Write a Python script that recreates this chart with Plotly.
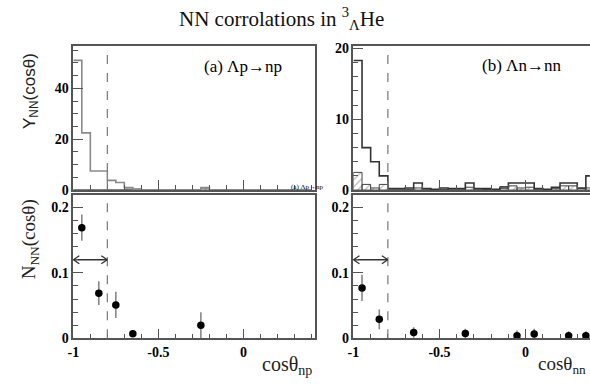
import numpy as np
import plotly.graph_objects as go

# ---------------- data ----------------
bin_edges = [round(-1 + 0.05 * i, 2) for i in range(29)]  # -1 ... 0.4, 0.05 wide

# (a) Λp→np  upper histogram (Y_NN)
hist_a_main = [51, 22.5, 7.5, 7.5, 3.8, 3.0, 1.0, 0.3,
               0, 0, 0, 0, 0, 0, 0,
               1.0,
               0, 0, 0, 0, 0, 0, 0, 0, 0, 0, 0, 0]
hist_a_hatch = [0, 0, 0, 0, 0, 0, 0.4, 0.4,
                0, 0, 0, 0, 0, 0, 0,
                0.8,
                0, 0, 0, 0, 0, 0, 0, 0, 0, 0, 0, 0]

# (b) Λn→nn upper histogram (Y_NN)
hist_b_main = [18.3, 6.0, 4.0, 2.0, 0.2, 0.2, 0.3, 1.0, 0.2, 0.1, 0.3, 0.2, 0.2, 1.0,
               0.2, 0.2, 0.1, 0.3, 1.0, 1.0, 1.0, 0.2, 0.1, 0.4, 1.0, 1.0, 0.3, 2.0]
hist_b_hatch = [2.5, 0.8, 0.3, 0.8, 0, 0, 0.1, 0.3, 0, 0, 0.1, 0, 0, 0.4,
                0, 0.1, 0, 0.5, 0.6, 0.3, 0.4, 0, 0, 0.2, 0.6, 0.6, 0.2, 0.3]

# lower panels N_NN(cosθ)
cos_a = [-0.95, -0.85, -0.75, -0.65, -0.25]
nnn_a = [0.169, 0.069, 0.051, 0.007, 0.020]
err_a = [0.020, 0.018, 0.020, 0.005, 0.020]

cos_b = [-0.95, -0.85, -0.65, -0.35, -0.05, 0.05, 0.25, 0.35]
nnn_b = [0.077, 0.029, 0.009, 0.0075, 0.004, 0.0065, 0.004, 0.004]
err_b = [0.020, 0.015, 0.008, 0.007, 0.008, 0.008, 0.007, 0.007]

cut_cos = -0.8
arrow_level = 0.12

# ---------------- figure ----------------
W, H = 590, 389
fig = go.Figure()

def step_xy(edges, vals):
    xs = list(edges) + [edges[-1]]
    ys = list(vals) + [vals[-1], 0]
    return xs, ys

centers = [(bin_edges[i] + bin_edges[i + 1]) / 2 for i in range(len(bin_edges) - 1)]

def add_hist(main, hatch, xa, ya, main_color):
    fig.add_trace(go.Bar(x=centers, y=hatch, width=0.05, xaxis=xa, yaxis=ya,
                         marker=dict(color='rgba(0,0,0,0)',
                                     line=dict(color='#444', width=1),
                                     pattern=dict(shape='/', fgcolor='#777', size=5, solidity=0.25)),
                         showlegend=False))
    xs, ys = step_xy(bin_edges, main)
    fig.add_trace(go.Scatter(x=xs, y=ys, mode='lines', line_shape='hv', xaxis=xa, yaxis=ya,
                             line=dict(color=main_color, width=1.6), showlegend=False))

add_hist(hist_a_main, hist_a_hatch, 'x', 'y', '#8a8a8a')
add_hist(hist_b_main, hist_b_hatch, 'x2', 'y2', '#333333')

def add_points(xv, yv, ev, xa, ya):
    fig.add_trace(go.Scatter(x=xv, y=yv, mode='markers', xaxis=xa, yaxis=ya,
                             marker=dict(color='black', size=7.5),
                             error_y=dict(type='data', array=ev, width=0, color='#888', thickness=1.6),
                             showlegend=False))

add_points(cos_a, nnn_a, err_a, 'x3', 'y3')
add_points(cos_b, nnn_b, err_b, 'x4', 'y4')

# double-headed arrows
for xa, ya in [('x3', 'y3'), ('x4', 'y4')]:
    fig.add_trace(go.Scatter(x=[-1, cut_cos], y=[arrow_level, arrow_level], mode='lines', xaxis=xa, yaxis=ya,
                             line=dict(color='#333', width=1.3), showlegend=False, hoverinfo='skip'))

tickfont = dict(family='Liberation Serif', size=14, color='black', weight='bold')
axcol = '#555'

def xaxis(domain, rng, anchor, labels):
    return dict(domain=domain, range=rng, anchor=anchor, showgrid=False, zeroline=False,
                showline=True, linecolor=axcol, linewidth=1.5, mirror=True,
                ticks='inside', ticklen=10, tickcolor=axcol, tickwidth=1.2,
                tickmode='array', tickvals=[-1, -0.5, 0], ticktext=['-1', '-0.5', '0'],
                showticklabels=labels, tickfont=tickfont,
                minor=dict(dtick=0.1, tick0=-1, ticks='inside', ticklen=5, tickcolor=axcol, showgrid=False))

def yaxis(domain, rng, anchor, vals, texts, mdt, mirror):
    return dict(domain=domain, range=rng, anchor=anchor, showgrid=False, zeroline=False,
                showline=True, linecolor=axcol, linewidth=1.5, mirror=mirror,
                ticks='inside', ticklen=10, tickcolor=axcol, tickwidth=1.2,
                tickmode='array', tickvals=vals, ticktext=texts,
                tickfont=tickfont,
                minor=dict(dtick=mdt, tick0=0, ticks='inside', ticklen=5, tickcolor=axcol, showgrid=False))

xl = [68 / W, 312 / W]
xr = [351 / W, 1.0]
yt = [1 - 192 / H, 1 - 43 / H]
yb = [1 - 345 / H, 1 - 197 / H]

fig.update_layout(
    width=W, height=H, margin=dict(l=0, r=0, t=0, b=0),
    paper_bgcolor='white', plot_bgcolor='white', barmode='overlay',
    xaxis=xaxis(xl, [-1, 0.42], 'y', False),
    yaxis=yaxis(yt, [0, 56.8], 'x', [0, 20, 40], ['0', '20', '40'], 5, True),
    xaxis2=xaxis(xr, [-1, 0.374], 'y2', False),
    yaxis2=yaxis(yt, [0, 20.4], 'x2', [0, 10, 20], ['0', '10', '20'], 2, False),
    xaxis3=xaxis(xl, [-1, 0.42], 'y3', True),
    yaxis3=yaxis(yb, [0, 0.219], 'x3', [0, 0.1, 0.2], ['0', '0.1', '0.2'], 0.02, True),
    xaxis4=xaxis(xr, [-1, 0.374], 'y4', True),
    yaxis4=yaxis(yb, [0, 0.219], 'x4', [0, 0.1, 0.2], ['0', '0.1', '0.2'], 0.02, False),
)

shapes = []
for xa, ya in [('x', 'y'), ('x2', 'y2'), ('x3', 'y3'), ('x4', 'y4')]:
    shapes.append(dict(type='line', xref=xa, yref=ya + ' domain', x0=cut_cos, x1=cut_cos, y0=0, y1=1,
                       line=dict(color='#777', width=1.2, dash='dash')))
# open arrowheads at both ends
for xa, ya in [('x3', 'y3'), ('x4', 'y4')]:
    for xend, sgn in [(-1, 1), (cut_cos, -1)]:
        for dy in (4, -4):
            shapes.append(dict(type='line', xref=xa, yref=ya, xsizemode='pixel', ysizemode='pixel',
                               xanchor=xend, yanchor=arrow_level, x0=0, y0=0, x1=6 * sgn, y1=dy,
                               line=dict(color='#333', width=1.3)))
fig.update_layout(shapes=shapes)

serif = 'Liberation Serif'
ann = [
    dict(text='NN corrolations in <sup>3</sup><sub>Λ</sub>He', x=278 / W, y=1 - 15 / H, xref='paper', yref='paper',
         showarrow=False, font=dict(family=serif, size=21, color='#111'), xanchor='center', yanchor='middle'),
    dict(text='(a) Λp→np', x=239 / W, y=1 - 64 / H, xref='paper', yref='paper', showarrow=False,
         font=dict(family=serif, size=17, color='black'), xanchor='center', yanchor='middle'),
    dict(text='(b) Λn→nn', x=521 / W, y=1 - 63 / H, xref='paper', yref='paper', showarrow=False,
         font=dict(family=serif, size=17, color='black'), xanchor='center', yanchor='middle'),
    dict(text='(a) Λp→np', x=286 / W, y=1 - 189 / H, xref='paper', yref='paper', showarrow=False,
         font=dict(family=serif, size=7, color='black'), xanchor='left', yanchor='middle'),
    dict(text='Y<sub>NN</sub>(cosθ)', x=25 / W, y=1 - 90 / H, xref='paper', yref='paper', showarrow=False,
         textangle=-90, font=dict(family='Liberation Sans', size=17, color='#222'), xanchor='center', yanchor='middle'),
    dict(text='N<sub>NN</sub>(cosθ)', x=24 / W, y=1 - 243 / H, xref='paper', yref='paper', showarrow=False,
         textangle=-90, font=dict(family=serif, size=19, color='#222'), xanchor='center', yanchor='middle'),
    dict(text='cosθ<sub>np</sub>', x=257 / W, y=1 - 373 / H, xref='paper', yref='paper', showarrow=False,
         font=dict(family=serif, size=20, color='#222'), xanchor='left', yanchor='middle'),
    dict(text='cosθ<sub>nn</sub>', x=588 / W, y=1 - 373 / H, xref='paper', yref='paper', showarrow=False,
         font=dict(family=serif, size=19, color='#222'), xanchor='right', yanchor='middle'),
]
fig.update_layout(annotations=ann)

fig.write_html('out.html')
